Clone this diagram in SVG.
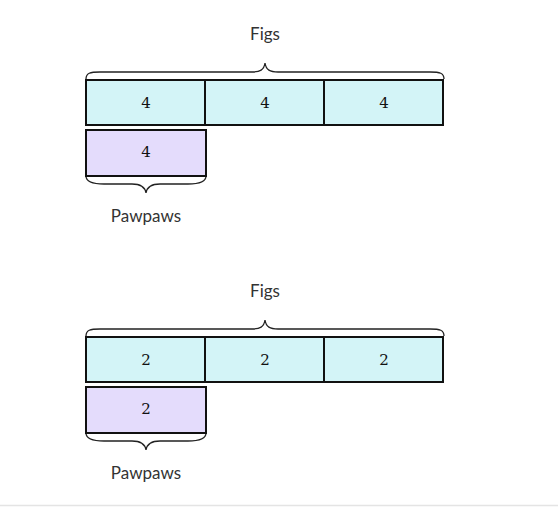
<svg xmlns="http://www.w3.org/2000/svg" width="558" height="509" viewBox="0 0 558 509">
<style>
.cellA{fill:#d3f4f7;stroke:#111;stroke-width:2}
.cellB{fill:#e4dcfc;stroke:#111;stroke-width:2}
.brace{fill:none;stroke:#222;stroke-width:1.3}
.num{font-family:"DejaVu Serif","Liberation Serif",serif;font-size:15px;fill:#111;text-anchor:middle}
.lbl{font-family:Lato,"Liberation Sans",sans-serif;font-size:17px;fill:#333;text-anchor:middle}
</style>
<rect width="558" height="509" fill="#fff"/>
<g id="model1">
  <text class="lbl" x="265" y="40">Figs</text>
  <g id="connectors1">
    <path class="brace" d="M86,79 C86,73 90,72 100,72 L252,72 C260,72 264,70 265,63 C266,70 270,72 278,72 L430,72 C440,72 444,73 444,79"/>
    <path class="brace" d="M86,176 C86,182 92,184 104,184 L132,184 C141,184 145,187 146,193 C147,187 151,184 160,184 L188,184 C200,184 206,182 206,176"/>
  </g>
  <g id="fig1a"><rect class="cellA" x="86" y="80" width="119" height="45"/><text class="num" x="146" y="108">4</text></g>
  <g id="fig1b"><rect class="cellA" x="205" y="80" width="119" height="45"/><text class="num" x="265" y="108">4</text></g>
  <g id="fig1c"><rect class="cellA" x="324" y="80" width="119" height="45"/><text class="num" x="384" y="108">4</text></g>
  <g id="paw1"><rect class="cellB" x="86" y="130" width="120" height="46"/><text class="num" x="146" y="157">4</text></g>
  <text class="lbl" x="146" y="222">Pawpaws</text>
</g>
<g id="model2" transform="translate(0,257)">
  <text class="lbl" x="265" y="40">Figs</text>
  <g id="connectors2">
    <path class="brace" d="M86,79 C86,73 90,72 100,72 L252,72 C260,72 264,70 265,63 C266,70 270,72 278,72 L430,72 C440,72 444,73 444,79"/>
    <path class="brace" d="M86,176 C86,182 92,184 104,184 L132,184 C141,184 145,187 146,193 C147,187 151,184 160,184 L188,184 C200,184 206,182 206,176"/>
  </g>
  <g id="fig2a"><rect class="cellA" x="86" y="80" width="119" height="45"/><text class="num" x="146" y="108">2</text></g>
  <g id="fig2b"><rect class="cellA" x="205" y="80" width="119" height="45"/><text class="num" x="265" y="108">2</text></g>
  <g id="fig2c"><rect class="cellA" x="324" y="80" width="119" height="45"/><text class="num" x="384" y="108">2</text></g>
  <g id="paw2"><rect class="cellB" x="86" y="130" width="120" height="46"/><text class="num" x="146" y="157">2</text></g>
  <text class="lbl" x="146" y="222">Pawpaws</text>
</g>
<line x1="0" y1="505.5" x2="558" y2="505.5" stroke="#e4e4e4" stroke-width="1.5"/>
</svg>
